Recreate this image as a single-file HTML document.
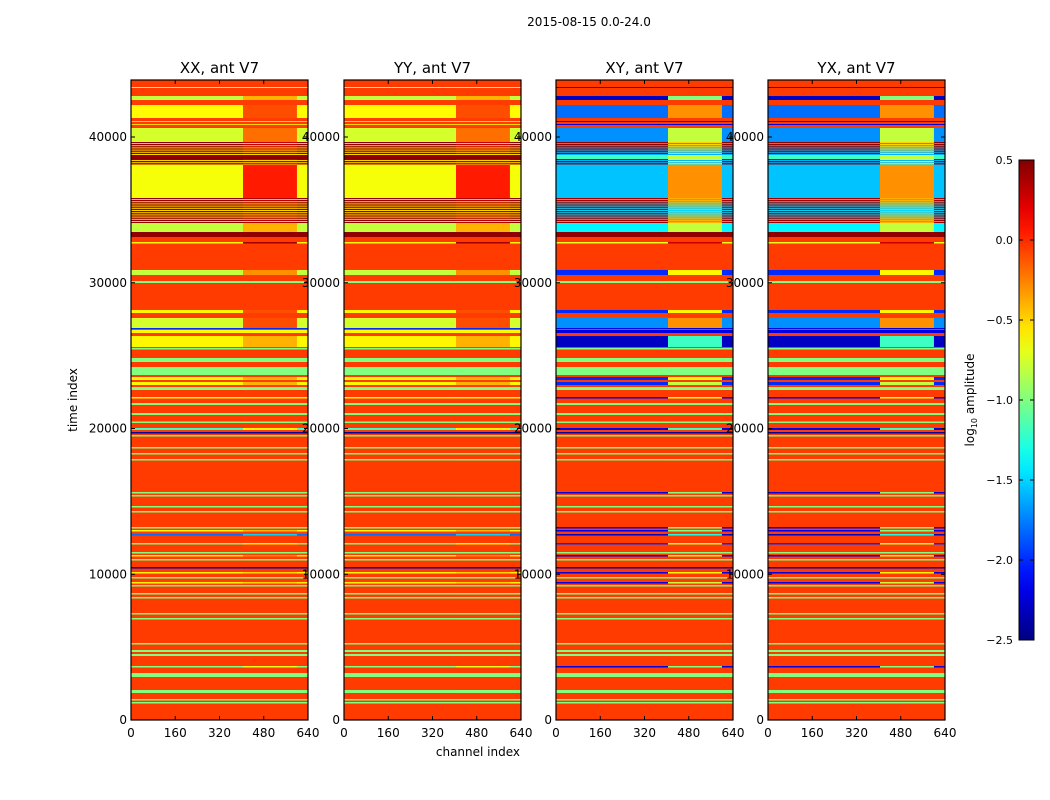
<!DOCTYPE html>
<html><head><meta charset="utf-8">
<style>
html,body{margin:0;padding:0;background:#fff;}
svg{display:block;font-family:"DejaVu Sans","Liberation Sans",sans-serif;}
</style></head>
<body>
<svg id="chart" width="1050" height="800" viewBox="0 0 1050 800" xmlns="http://www.w3.org/2000/svg">
<rect width="1050" height="800" fill="#fff"/>
<text x="589" y="26" font-size="12" text-anchor="middle">2015-08-15 0.0-24.0</text>
<g id="panels"></g>
<text transform="translate(77,400) rotate(-90)" font-size="12" text-anchor="middle">time index</text>
<text x="520" y="756" font-size="12" text-anchor="end">channel index</text>
<g id="cbar"></g>
<text transform="translate(974,400) rotate(-90)" font-size="12" text-anchor="middle">log<tspan font-size="8" dy="3">10</tspan><tspan dy="-3"> amplitude</tspan></text>
</svg>
<script>
// ---- data ----
const panelTitles = ["XX, ant V7","YY, ant V7","XY, ant V7","YX, ant V7"];
const panelIsCross = [false,false,true,true];
const xTicks = [0,160,320,480,640];
const yTicks = [0,10000,20000,30000,40000];
const cbarTicks = [0.5,0.0,-0.5,-1.0,-1.5,-2.0,-2.5];
const flagValue = -0.05;
const innerChannels = [405,600];
const bandLo = [43362,42538,41303,41029,40823,39657,38765,38490,38079,35814,34099,33482,33139,32693,30531,29983,27924,26895,26827,26552,25592,25420,24562,23670,23327,22984,22641,22058,21612,20926,20377,19897,19657,19451,18628,18216,17804,15540,15334,14580,14236,13139,12933,12658,12041,11423,11218,10943,10394,10051,9708,9365,9159,8610,8336,7238,6895,5180,4665,4391,3602,2950,1852,1338,1132];
const bandHi = [43430,42813,42195,41097,40892,40617,39657,38765,38490,38079,35814,34099,33482,32796,30875,30120,28130,27581,26895,26758,26346,25523,24837,24219,23533,23190,22847,22161,21749,21063,20480,20034,19760,19554,18731,18319,17907,15643,15437,14683,14339,13242,13036,12761,12144,11526,11321,11046,10497,10154,9811,9468,9262,8713,8439,7341,6998,5283,4803,4528,3705,3225,2058,1441,1235];
const parOuter = [-0.6,-0.8,-0.62,-0.5,-0.5,-0.75,0.45,0.45,0.45,-0.65,0.45,-0.8,0.45,-0.6,-0.8,-1.0,-0.6,-0.75,-2.0,-0.6,-0.6,-1.0,-1.0,-1.0,-0.6,-0.6,-1.0,-0.6,-1.0,-1.0,-1.0,-1.2,-2.4,-1.0,-1.0,-1.0,-1.0,-1.0,-1.0,-1.0,-1.0,-1.0,-0.6,-1.8,-1.0,-1.0,-0.6,-1.0,-2.4,-0.6,-1.0,-0.6,-1.0,-1.0,-1.0,-1.0,-1.0,-1.0,-1.0,-1.0,-1.0,-1.0,-1.0,-1.0,-1.0];
const parInner = [-0.6,-0.4,-0.1,-0.5,-0.5,-0.2,0.3,0.45,0.3,0.05,0.35,-0.4,0.45,0.4,-0.3,-1.0,-0.1,-0.1,-2.0,-0.6,-0.4,-1.0,-1.0,-1.0,-0.4,-0.4,-1.0,-0.6,-1.0,-1.0,-1.0,-0.6,-2.4,-1.0,-1.0,-1.0,-1.0,-1.0,-1.0,-1.0,-1.0,-1.0,-0.4,-1.5,-0.6,-1.0,-0.3,-1.0,-2.4,-0.5,-1.0,-0.5,-1.0,-1.0,-1.0,-1.0,-1.0,-1.0,-1.0,-1.0,-0.7,-1.0,-1.0,-1.0,-1.0];
const parAlt = [null,null,null,null,null,null,-0.5,null,-0.5,null,-0.5,null,null,null,null,null,null,null,null,null,null,null,null,null,null,null,null,null,null,null,null,null,null,null,null,null,null,null,null,null,null,null,null,null,null,null,null,null,null,null,null,null,null,null,null,null,null,null,null,null,null,null,null,null,null];
const crossOuter = [-2.2,-2.3,-1.8,-2.2,-2.2,-1.7,0.45,-1.2,0.45,-1.55,0.4,-1.4,0.45,-0.7,-2.0,-1.0,-2.0,-1.7,-2.2,-2.2,-2.3,-1.0,-1.0,-1.0,-2.0,-2.0,-1.0,-2.2,-1.0,-1.0,-1.0,-2.2,-2.4,-1.0,-1.0,-1.0,-1.0,-2.2,-1.0,-1.0,-1.0,-2.2,-2.2,-2.3,-2.0,-1.0,-2.2,-1.0,-2.4,-2.2,-1.0,-2.2,-1.0,-1.0,-1.0,-1.0,-1.0,-1.0,-1.0,-1.0,-2.2,-1.0,-1.0,-1.0,-1.0];
const crossInner = [-2.2,-1.0,-0.3,-2.2,-2.2,-0.8,-0.5,-0.8,-0.6,-0.3,-0.4,-0.8,0.45,0.3,-0.6,-1.0,-0.6,-0.3,-2.2,-2.2,-1.2,-1.0,-1.0,-1.0,-0.6,-0.8,-1.0,-0.7,-1.0,-1.0,-1.0,-1.2,-2.4,-1.0,-1.0,-1.0,-1.0,-1.0,-1.0,-1.0,-1.0,-1.0,-1.0,-1.3,-0.8,-1.0,-0.8,-1.0,-2.4,-0.6,-1.0,-0.8,-1.0,-1.0,-1.0,-1.0,-1.0,-1.0,-1.0,-1.0,-1.0,-1.0,-1.0,-1.0,-1.0];
const crossAlt = [null,null,null,null,null,null,-1.6,null,-1.6,null,-1.5,null,null,null,null,null,null,null,null,null,null,null,null,null,null,null,null,null,null,null,null,null,null,null,null,null,null,null,null,null,null,null,null,null,null,null,null,null,null,null,null,null,null,null,null,null,null,null,null,null,null,null,null,null,null];
</script>
<script>
const NS="http://www.w3.org/2000/svg";
const panelLeft=[131,344,556,768], PW=177, PT=80, PB=720;
const tMax=43911, chMax=640, vmin=-2.5, vmax=0.5;
function jet(v){
  let x=(v-vmin)/(vmax-vmin); x=Math.max(0,Math.min(1,x));
  const c=f=>Math.round(255*Math.max(0,Math.min(1,f)));
  return "rgb("+c(1.5-Math.abs(4*x-3))+","+c(1.5-Math.abs(4*x-2))+","+c(1.5-Math.abs(4*x-1))+")";
}
function yS(t){return PB-(t/tMax)*(PB-PT);}
function mk(tag,attrs,parent){const e=document.createElementNS(NS,tag);for(const k in attrs)e.setAttribute(k,attrs[k]);parent.appendChild(e);return e;}
const gp=document.getElementById('panels');
panelTitles.forEach((title,p)=>{
  const L=panelLeft[p];
  const xS=c=>L+(c/chMax)*PW;
  const g=mk('g',{},gp);
  
  
  const bg=mk('rect',{x:L,y:PT,width:PW,height:PB-PT,fill:jet(flagValue)},g);
  
  
  const cross=panelIsCross[p];
  const outer=cross?crossOuter:parOuter, inner=cross?crossInner:parInner, alt=cross?crossAlt:parAlt;
  for(let i=0;i<bandLo.length;i++){
    const y0=yS(bandHi[i]), h=Math.max(1,yS(bandLo[i])-y0);
    const r1=mk('rect',{x:xS(0),y:y0,width:xS(chMax)-xS(0),height:h,fill:jet(outer[i])},g);
    
    
    const r2=mk('rect',{x:xS(innerChannels[0]),y:y0,width:xS(innerChannels[1])-xS(innerChannels[0]),height:h,fill:jet(inner[i])},g);
    
    
    if(alt[i]!==null){
      for(let yy=y0+1; yy<y0+h-0.5; yy+=2.2){
        const s=mk('rect',{x:xS(0),y:yy,width:xS(chMax)-xS(0),height:1,fill:jet(alt[i])},g);
        
        
      }
    }
  }
  mk('rect',{x:L,y:PT,width:PW,height:PB-PT,fill:'none',stroke:'#000','stroke-width':1.2},g);
  const tt=mk('text',{x:L+PW/2,y:73,'font-size':15,'text-anchor':'middle'},g);
  tt.textContent=title;
  
  
  xTicks.forEach(c=>{
    const x=xS(c);
    mk('line',{x1:x,x2:x,y1:PB,y2:PB-4,stroke:'#000'},g);
    mk('line',{x1:x,x2:x,y1:PT,y2:PT+4,stroke:'#000'},g);
    const t=mk('text',{x:x,y:737,'font-size':12,'text-anchor':'middle'},g);
    t.textContent=c;
    
    
  });
  yTicks.forEach(v=>{
    const y=yS(v);
    mk('line',{x1:L,x2:L+4,y1:y,y2:y,stroke:'#000'},g);
    mk('line',{x1:L+PW,x2:L+PW-4,y1:y,y2:y,stroke:'#000'},g);
    const t=mk('text',{x:L-4,y:y+4,'font-size':12,'text-anchor':'end'},g);
    t.textContent=v;
    
    
  });
});
// colorbar
const cb=document.getElementById('cbar');
const CX=1019,CW=15,CT=160,CB=640;
const defs=mk('defs',{},cb);
const lg=mk('linearGradient',{id:'jetg',x1:0,y1:1,x2:0,y2:0},defs);
for(let i=0;i<=20;i++){mk('stop',{offset:i/20,'stop-color':jet(vmin+(vmax-vmin)*i/20)},lg);}
const cr=mk('rect',{x:CX,y:CT,width:CW,height:CB-CT,fill:'url(#jetg)',stroke:'#000','stroke-width':1},cb);


const cyS=v=>CB-(v-vmin)/(vmax-vmin)*(CB-CT);
cbarTicks.forEach(v=>{
  const y=cyS(v);
  mk('line',{x1:CX,x2:CX+4,y1:y,y2:y,stroke:'#000'},cb);
  mk('line',{x1:CX+CW,x2:CX+CW-4,y1:y,y2:y,stroke:'#000'},cb);
  const t=mk('text',{x:1013,y:y+4,'font-size':11,'text-anchor':'end'},cb);
  t.textContent=(v<0?'\u2212':'')+Math.abs(v).toFixed(1);
  
  
});
</script>
</body></html>
